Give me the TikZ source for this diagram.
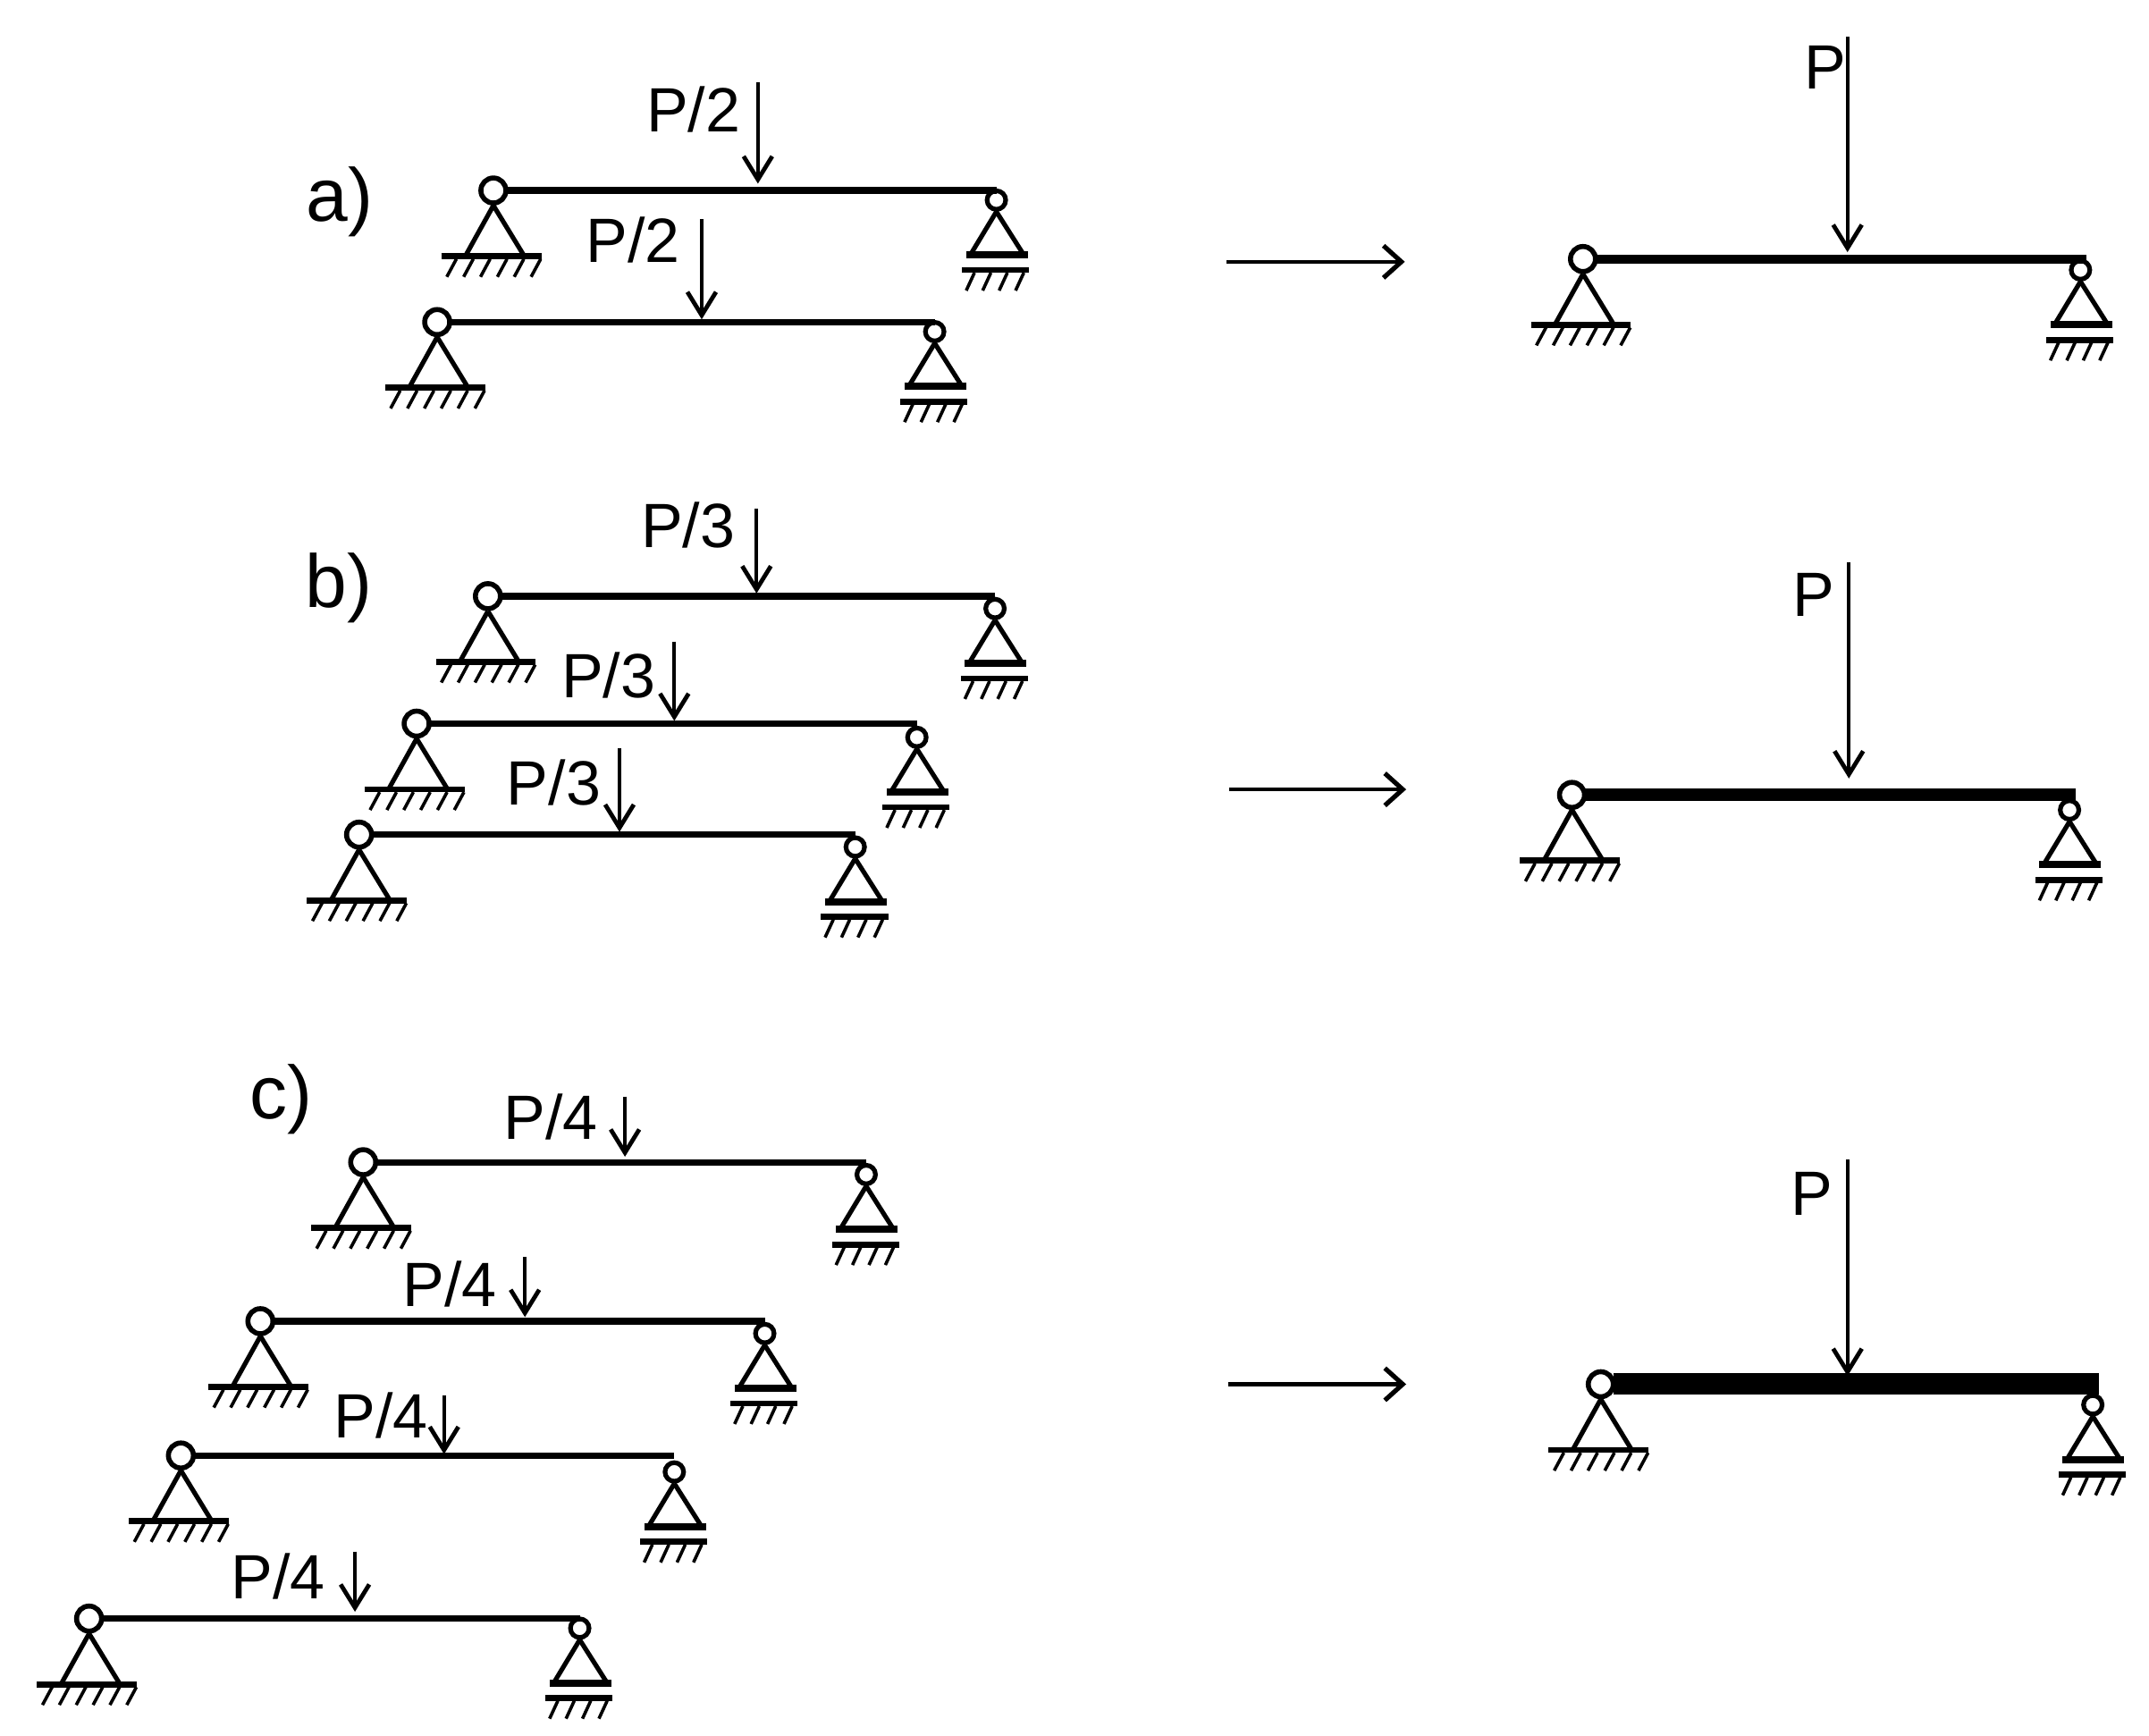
\documentclass[tikz,border=0pt]{standalone}
\usepackage{fontspec}
\setmainfont{Liberation Sans}
\usetikzlibrary{arrows.meta}
\tikzset{
  hinge/.style={circle,draw=black,fill=white,line width=1.4pt,inner sep=0pt,minimum size=7pt},
  roller/.style={circle,draw=black,fill=white,line width=1.3pt,inner sep=0pt,minimum size=5.2pt},
  beam/.style={draw=black,line width=1.8pt,shorten <=-0.6pt},
  heavy/.style={shorten >=-1.6pt},
  leg/.style={draw=black,line width=1.3pt},
  base/.style={draw=black,line width=1.7pt},
  hatch/.style={draw=black,line width=0.9pt},
  load/.style={draw=black,line width=0.95pt,-{Straight Barb[length=6.5pt,width=8pt,line width=1.2pt]}},
  step arrow/.style={draw=black,line width=1.1pt,-{Straight Barb[length=5pt,width=9pt,line width=1.3pt]}},
  lbl/.style={inner sep=0pt,font=\fontsize{17.5}{20}\selectfont},
  part/.style={inner sep=0pt,font=\fontsize{21}{24}\selectfont}
}
\newcommand{\pinsup}[3]{
\node[hinge] (#1) at (#2,#3) {};
\draw[leg] (#1.south) -- (#2-20,#3+47);
\draw[leg] (#1.south) -- (#2+22,#3+47);
\draw[base] (#2-38,#3+48) -- (#2+35,#3+48);
\foreach \i in {0,...,5} {
\draw[hatch] (#2-27+\i*12.3,#3+50) -- (#2-34+\i*12.3,#3+63);
}
}
\newcommand{\rollsup}[3]{
\node[roller] (#1) at (#2,#3) {};
\draw[leg] (#1.south) -- (#2-19,#3+40);
\draw[leg] (#1.south) -- (#2+20,#3+40);
\draw[base,line width=2pt] (#2-22,#3+40) -- (#2+23,#3+40);
\draw[base] (#2-25,#3+51) -- (#2+24,#3+51);
\foreach \i in {0,...,3} {
\draw[hatch] (#2-16+\i*12,#3+53) -- (#2-22+\i*12,#3+66);
}
}
\begin{document}
\begin{tikzpicture}[x=0.3833pt,y=-0.3833pt]
\useasboundingbox (0,0) rectangle (1568,1266.6);
% a)
\node[part] (la) at (248,147) {a)};
\pinsup{a1l}{360}{139}
\rollsup{a1r}{727}{146}
\draw[beam] (a1l) -- (a1l -| a1r);
\coordinate (a1t) at (553,60);
\coordinate (a1h) at (553,134);
\draw[load] (a1t) -- (a1h);
\node[lbl] (a1p) at (506,80) {P/2};
\pinsup{a2l}{319}{235}
\rollsup{a2r}{682}{242}
\draw[beam] (a2l) -- (a2l -| a2r);
\coordinate (a2t) at (512,160);
\coordinate (a2h) at (512,233);
\draw[load] (a2t) -- (a2h);
\node[lbl] (a2p) at (462,175) {P/2};
\coordinate (as) at (895,191);
\coordinate (ae) at (1025,191);
\draw[step arrow] (as) -- (ae);
\pinsup{aRl}{1155}{189}
\rollsup{aRr}{1518}{197}
\draw[beam,heavy,line width=2.6pt] (aRl) -- (aRl -| aRr);
\coordinate (aRt) at (1348,27);
\coordinate (aRh) at (1348,184);
\draw[load] (aRt) -- (aRh);
\node[lbl] (aRp) at (1332,49) {P};
% b)
\node[part] (lb) at (247,429) {b)};
\pinsup{b1l}{356}{435}
\rollsup{b1r}{726}{444}
\draw[beam] (b1l) -- (b1l -| b1r);
\coordinate (b1t) at (552,371);
\coordinate (b1h) at (552,433);
\draw[load] (b1t) -- (b1h);
\node[lbl] (b1p) at (502,383) {P/3};
\pinsup{b2l}{304}{528}
\rollsup{b2r}{669}{538}
\draw[beam] (b2l) -- (b2l -| b2r);
\coordinate (b2t) at (492,468);
\coordinate (b2h) at (492,526);
\draw[load] (b2t) -- (b2h);
\node[lbl] (b2p) at (444,493) {P/3};
\pinsup{b3l}{262}{609}
\rollsup{b3r}{624}{618}
\draw[beam] (b3l) -- (b3l -| b3r);
\coordinate (b3t) at (452,546);
\coordinate (b3h) at (452,607);
\draw[load] (b3t) -- (b3h);
\node[lbl] (b3p) at (404,571) {P/3};
\coordinate (bs) at (897,576);
\coordinate (be) at (1026,576);
\draw[step arrow] (bs) -- (be);
\pinsup{bRl}{1147}{580}
\rollsup{bRr}{1510}{591}
\draw[beam,heavy,line width=3.6pt] (bRl) -- (bRl -| bRr);
\coordinate (bRt) at (1349,410);
\coordinate (bRh) at (1349,568);
\draw[load] (bRt) -- (bRh);
\node[lbl] (bRp) at (1323,434) {P};
% c)
\node[part] (lc) at (205,802) {c)};
\pinsup{c1l}{265}{848}
\rollsup{c1r}{632}{857}
\draw[beam] (c1l) -- (c1l -| c1r);
\coordinate (c1t) at (456,800);
\coordinate (c1h) at (456,844);
\draw[load] (c1t) -- (c1h);
\node[lbl] (c1p) at (402,815) {P/4};
\pinsup{c2l}{190}{964}
\rollsup{c2r}{558}{973}
\draw[beam] (c2l) -- (c2l -| c2r);
\coordinate (c2t) at (383,917);
\coordinate (c2h) at (383,961);
\draw[load] (c2t) -- (c2h);
\node[lbl] (c2p) at (328,937) {P/4};
\pinsup{c3l}{132}{1062}
\rollsup{c3r}{492}{1074}
\draw[beam] (c3l) -- (c3l -| c3r);
\coordinate (c3t) at (324,1018);
\coordinate (c3h) at (324,1061);
\draw[load] (c3t) -- (c3h);
\node[lbl] (c3p) at (278,1033) {P/4};
\pinsup{c4l}{65}{1181}
\rollsup{c4r}{423}{1188}
\draw[beam] (c4l) -- (c4l -| c4r);
\coordinate (c4t) at (259,1132);
\coordinate (c4h) at (259,1176);
\draw[load] (c4t) -- (c4h);
\node[lbl] (c4p) at (203,1150) {P/4};
\coordinate (cs) at (896,1010);
\coordinate (ce) at (1026,1010);
\draw[step arrow] (cs) -- (ce);
\pinsup{cRl}{1168}{1010}
\rollsup{cRr}{1527}{1025}
\draw[beam,heavy,line width=6pt] (cRl) -- (cRl -| cRr);
\coordinate (cRt) at (1348,846);
\coordinate (cRh) at (1348,1004);
\draw[load] (cRt) -- (cRh);
\node[lbl] (cRp) at (1322,871) {P};
\end{tikzpicture}
\end{document}
